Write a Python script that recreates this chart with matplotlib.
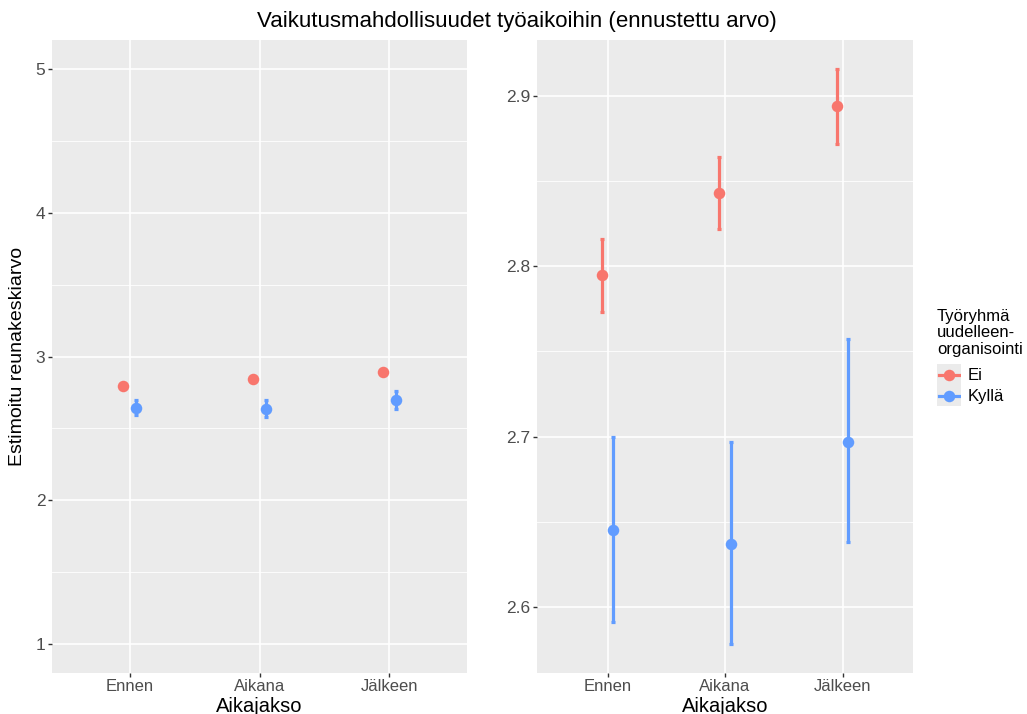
import matplotlib
matplotlib.use("Agg")
import matplotlib.pyplot as plt
import numpy as np

plt.rcParams['font.family'] = ['Liberation Sans', 'DejaVu Sans']

# Data: estimated marginal means with confidence limits
periods = ["Ennen", "Aikana", "Jälkeen"]
groups = ["Ei", "Kyllä"]
colors = {"Ei": "#F8766D", "Kyllä": "#619CFF"}

ei_mean = [2.795, 2.843, 2.894]
ei_low = [2.773, 2.822, 2.872]
ei_high = [2.816, 2.864, 2.916]

kylla_mean = [2.645, 2.637, 2.697]
kylla_low = [2.591, 2.578, 2.638]
kylla_high = [2.700, 2.697, 2.757]

series = {
    "Ei": (ei_mean, ei_low, ei_high),
    "Kyllä": (kylla_mean, kylla_low, kylla_high),
}
dodge = {"Ei": -0.05, "Kyllä": 0.05}

title = "Vaikutusmahdollisuudet työaikoihin (ennustettu arvo)"
xlabel = "Aikajakso"
ylabel = "Estimoitu reunakeskiarvo"
legend_title = ["Työryhmä", "uudelleen-", "organisointi"]

W, H = 1027, 714
fig = plt.figure(figsize=(W / 100, H / 100), dpi=100)


def px_axes(x0, y0, x1, y1):
    return fig.add_axes([x0 / W, 1 - y1 / H, (x1 - x0) / W, (y1 - y0) / H])


ax1 = px_axes(52, 40, 467, 673)
ax2 = px_axes(537, 40, 913, 673)

tick_color = "#4D4D4D"


def style(ax):
    ax.set_facecolor("#EBEBEB")
    for s in ax.spines.values():
        s.set_visible(False)
    ax.grid(which="major", color="white", linewidth=1.2)
    ax.grid(which="minor", axis="y", color="white", linewidth=0.6)
    ax.set_axisbelow(True)
    ax.tick_params(which="major", length=3.2, width=1, color="#333333",
                   labelcolor=tick_color, labelsize=12.5, pad=1.5)
    ax.tick_params(axis="x", labelsize=12, pad=0.8)
    ax.tick_params(which="minor", length=0)
    ax.tick_params(axis="x", which="minor", bottom=False)


def draw(ax):
    x = np.arange(len(periods))
    for g in groups:
        m, lo, hi = series[g]
        m = np.array(m)
        lo = np.array(lo)
        hi = np.array(hi)
        xs = x + dodge[g]
        ax.errorbar(xs, m, yerr=[m - lo, hi - m], fmt="none",
                    ecolor=colors[g], elinewidth=2.3, capsize=1.6,
                    capthick=2.3, zorder=3)
        ax.plot(xs, m, "o", color=colors[g], markersize=8.3,
                markeredgewidth=0, zorder=4)
    ax.set_xticks(x)
    ax.set_xticklabels(periods)
    ax.set_xlim(-0.6, len(periods) - 0.4)
    ax.set_xlabel(xlabel, fontsize=14.5, va="center")
    ax.xaxis.set_label_coords(0.5, -33 / 633)


draw(ax1)
ax1.set_ylim(0.8, 5.2)
ax1.set_yticks([1, 2, 3, 4, 5])
ax1.set_yticks([1.5, 2.5, 3.5, 4.5], minor=True)
ax1.set_ylabel(ylabel, fontsize=14, va="center")
ax1.yaxis.set_label_coords(-34 / 415, 0.5)
style(ax1)

draw(ax2)
lo_all = min(ei_low + kylla_low)
hi_all = max(ei_high + kylla_high)
pad = 0.05 * (hi_all - lo_all)
ax2.set_ylim(lo_all - pad, hi_all + pad)
ax2.set_yticks([2.6, 2.7, 2.8, 2.9])
ax2.set_yticks([2.65, 2.75, 2.85], minor=True)
ax2.set_yticklabels(["2.6", "2.7", "2.8", "2.9"])
style(ax2)

fig.text(517 / W, 1 - 21 / H, title, ha="center", va="center", fontsize=16)

# Legend drawn by hand so the keys get the grey panel background
for i, line in enumerate(legend_title):
    fig.text(937 / W, 1 - (316 + 16.6 * i) / H, line, ha="left",
             va="center", fontsize=12)
key_ax = px_axes(937, 364, 961, 406)
key_ax.set_facecolor("#EBEBEB")
key_ax.set_xlim(0, 1)
key_ax.set_ylim(0, 2)
key_ax.set_xticks([])
key_ax.set_yticks([])
for s in key_ax.spines.values():
    s.set_visible(False)
for i, g in enumerate(groups):
    yk = 1.5 - i
    key_ax.plot([0.08, 0.92], [yk, yk], color=colors[g], linewidth=2.3)
    key_ax.plot([0.5], [yk], "o", color=colors[g], markersize=8.3,
                markeredgewidth=0)
    fig.text(968 / W, 1 - (375 + 21 * i) / H, g, ha="left", va="center",
             fontsize=12)

fig.savefig("out.png", dpi=100, facecolor="white")
